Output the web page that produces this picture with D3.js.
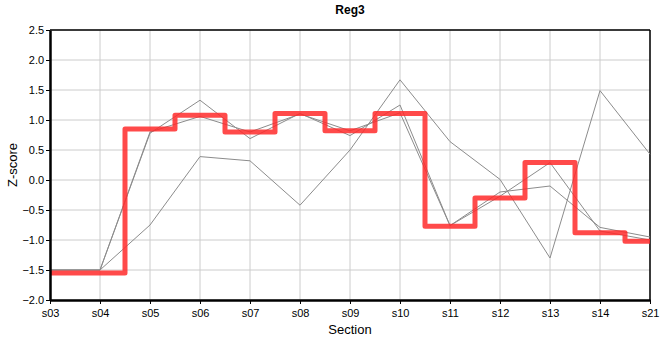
<!DOCTYPE html>
<html>
<head>
<meta charset="utf-8">
<script src="https://cdn.jsdelivr.net/npm/d3@7"></script>
<style>
  body { margin: 0; background: #fff; }
  text { font-family: "Liberation Sans", Arial, sans-serif; }
</style>
</head>
<body>
<div id="chart"></div>
<script>
// sections on the x axis
const sections = ['s03', 's04', 's05', 's06', 's07', 's08', 's09', 's10', 's11', 's12', 's13', 's14', 's21']

// gray sample lines
const grayA = [-1.5, -1.5, 0.78, 1.33, 0.69, 1.11, 0.74, 1.25, -0.76, -0.2, -0.1, -0.79, -0.95]
const grayB = [-1.5, -1.5, 0.8, 1.06, 0.8, 1.1, 0.82, 1.12, -0.76, -0.27, 0.29, -0.85, -1.0]
const grayC = [-1.5, -1.5, -0.75, 0.39, 0.32, -0.42, 0.5, 1.67, 0.64, 0.01, -1.3, 1.49, 0.43]

// red step series
const redStep = [-1.55, -1.55, 0.85, 1.08, 0.8, 1.11, 0.82, 1.11, -0.77, -0.3, 0.29, -0.88, -1.02]

const yTicks = [-2.0, -1.5, -1.0, -0.5, 0.0, 0.5, 1.0, 1.5, 2.0, 2.5]

const W = 660, H = 360
const m = {left: 50, right: 10, top: 30, bottom: 60}

const svg = d3.select('#chart').append('svg')
  .attr('width', W).attr('height', H)

const x = d3.scalePoint().domain(sections).range([m.left, W - m.right])
const y = d3.scaleLinear().domain([-2.0, 2.5]).range([H - m.bottom, m.top])

// grid
svg.append('g').selectAll('line.h')
  .data(yTicks).enter().append('line')
  .attr('x1', m.left).attr('x2', W - m.right)
  .attr('y1', d => y(d)).attr('y2', d => y(d))
  .attr('stroke', '#cccccc').attr('stroke-width', 1)

svg.append('g').selectAll('line.v')
  .data(sections).enter().append('line')
  .attr('x1', d => x(d)).attr('x2', d => x(d))
  .attr('y1', m.top).attr('y2', H - m.bottom)
  .attr('stroke', '#cccccc').attr('stroke-width', 1)

// top / right border
svg.append('line')
  .attr('x1', m.left).attr('x2', W - m.right)
  .attr('y1', m.top).attr('y2', m.top)
  .attr('stroke', 'black').attr('stroke-width', 1.5)
svg.append('line')
  .attr('x1', W - m.right).attr('x2', W - m.right)
  .attr('y1', m.top).attr('y2', H - m.bottom)
  .attr('stroke', 'black').attr('stroke-width', 1.5)

// gray lines
const line = d3.line()
  .x((d, i) => x(sections[i]))
  .y(d => y(d))

svg.append('g').selectAll('path')
  .data([grayA, grayB, grayC]).enter().append('path')
  .attr('d', line)
  .attr('fill', 'none')
  .attr('stroke', '#8c8c8c')
  .attr('stroke-width', 1)

// red step line
const stepLine = d3.line()
  .x((d, i) => x(sections[i]))
  .y(d => y(d))
  .curve(d3.curveStep)

svg.append('path')
  .attr('d', stepLine(redStep))
  .attr('fill', 'none')
  .attr('stroke', '#ff2a2a')
  .attr('stroke-opacity', 0.85)
  .attr('stroke-width', 5)
  .attr('stroke-linejoin', 'round')

// axes
const xAxis = svg.append('g')
  .attr('transform', 'translate(0,' + (H - m.bottom) + ')')
  .call(d3.axisBottom(x).tickSize(4).tickSizeOuter(0))
const yAxis = svg.append('g')
  .attr('transform', 'translate(' + m.left + ',0)')
  .call(d3.axisLeft(y).tickValues(yTicks).tickFormat(d3.format('.1f')).tickSize(4).tickSizeOuter(0))

xAxis.select('.domain').attr('stroke-width', 2.5)
yAxis.select('.domain').attr('stroke-width', 2.5)
xAxis.selectAll('text').attr('font-size', 11).attr('fill', '#000').attr('dy', '0.9em')
yAxis.selectAll('text').attr('font-size', 11).attr('fill', '#000').attr('dx', '0.1em')

// titles
svg.append('text')
  .attr('x', 350).attr('y', 14)
  .attr('text-anchor', 'middle')
  .attr('font-size', 12).attr('font-weight', 'bold')
  .text('Reg3')

svg.append('text')
  .attr('x', 350).attr('y', 334)
  .attr('text-anchor', 'middle')
  .attr('font-size', 13)
  .text('Section')

svg.append('text')
  .attr('transform', 'translate(17,165) rotate(-90)')
  .attr('text-anchor', 'middle')
  .attr('font-size', 13)
  .text('Z-score')
</script>
</body>
</html>
